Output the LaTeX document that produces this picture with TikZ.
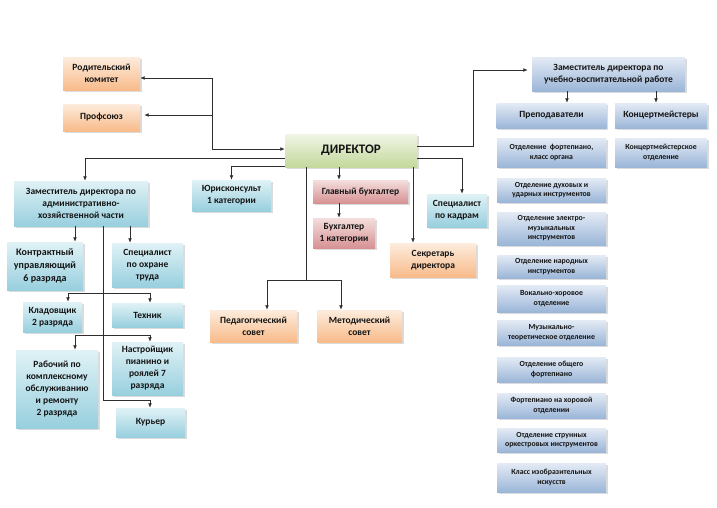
\documentclass[tikz,border=0pt]{standalone}
\usepackage{fontspec}
\setmainfont{Carlito}
\usetikzlibrary{arrows.meta,shadows,calc}
\definecolor{orT}{HTML}{FDECDD}
\definecolor{orB}{HTML}{F8BB8A}
\definecolor{aqT}{HTML}{E0F2F6}
\definecolor{aqB}{HTML}{98CFDE}
\definecolor{rdT}{HTML}{F4DEDD}
\definecolor{rdB}{HTML}{D79294}
\definecolor{grT}{HTML}{F0F5E5}
\definecolor{grB}{HTML}{C4D89C}
\definecolor{blT}{HTML}{E4EBF5}
\definecolor{blB}{HTML}{9BB6D8}
\definecolor{ln}{HTML}{2E2E2E}
\definecolor{tx}{HTML}{141414}
\begin{document}
\begin{tikzpicture}[x=1pt,y=-1pt,
  box/.style={rectangle, inner sep=1pt, align=center, text=tx,
    font=\bfseries\fontsize{9.5}{12}\selectfont,
    drop shadow={shadow xshift=1.6pt,shadow yshift=-1.6pt,opacity=0.28}},
  wh/.style 2 args={minimum width=#1pt, minimum height=#2pt},
  orb/.style={box, top color=orT, bottom color=orB},
  aqb/.style={box, top color=aqT, bottom color=aqB},
  rdb/.style={box, top color=rdT, bottom color=rdB},
  grb/.style={box, top color=grT, bottom color=grB},
  blb/.style={box, top color=blT, bottom color=blB},
  sml/.style={font=\bfseries\fontsize{7.8}{9.5}\selectfont},
  arr/.style={draw=ln, line width=0.8pt, -{Latex[length=4.5pt,width=3.8pt]}},
  ln/.style={draw=ln, line width=0.8pt},
]
\fill[white] (0,0) rectangle (717,507);
\useasboundingbox (0,0) rectangle (717,507);

% top left
\node[orb, wh={77}{33}] (rod) at (101.5,73.5) {Родительский\\комитет};
\node[orb, wh={77}{27}] (prof) at (101.5,117.5) {Профсоюз};
% director
\node[grb, wh={132}{33}, font=\bfseries\fontsize{13}{15}\selectfont] (dir) at (351,150.5) {ДИРЕКТОР};
% middle
\node[aqb, wh={79}{31}] (jur) at (231.5,195.5) {Юрисконсульт\\1 категории};
\node[rdb, wh={95}{23}] (glb) at (360.5,191.5) {Главный бухгалтер};
\node[rdb, wh={62}{30}] (buh) at (344,233) {Бухгалтер\\1 категории};
\node[aqb, wh={60}{33}] (kad) at (457,210.5) {Специалист\\по кадрам};
\node[orb, wh={86}{34}] (sek) at (433,260) {Секретарь\\директора};
\node[orb, wh={87}{32}] (ped) at (253.5,326) {Педагогический\\совет};
\node[orb, wh={85}{32}] (met) at (359.5,326) {Методический\\совет};
% left
\node[aqb, wh={134}{45}] (axch) at (81,203.5) {Заместитель директора по\\административно-\\хозяйственной части};
\node[aqb, wh={76}{48}, font=\bfseries\fontsize{10}{13}\selectfont] (kontr) at (45,266) {Контрактный\\управляющий\\6 разряда};
\node[aqb, wh={71}{44}] (ohr) at (147.5,265) {Специалист\\по охране\\труда};
\node[aqb, wh={59}{30}] (klad) at (52.5,317) {Кладовщик\\2 разряда};
\node[aqb, wh={71}{24}] (tech) at (147.5,315) {Техник};
\node[aqb, wh={82}{78}] (rab) at (57,389) {Рабочий по\\комплексному\\обслуживанию\\и ремонту\\2 разряда};
\node[aqb, wh={71}{53}] (nastr) at (147.5,368.5) {Настройщик\\пианино и\\роялей 7\\разряда};
\node[aqb, wh={69}{29}] (kur) at (150.5,422.5) {Курьер};
% right
\node[blb, wh={153}{34}] (uvr) at (608.5,74) {Заместитель директора по\\учебно-воспитательной работе};
\node[blb, wh={110}{25}] (prep) at (551.5,115.5) {Преподаватели};
\node[blb, wh={92}{25}] (konc) at (661,115.5) {Концертмейстеры};
\node[blb, sml, wh={109}{29}] (r1) at (551.5,152.5) {Отделение \ фортепиано,\\класс органа};
\node[blb, sml, wh={92}{29}] (k1) at (661,152.5) {Концертмейстерское\\отделение};
\node[blb, sml, wh={109}{24}] (r2) at (551.5,190) {Отделение духовых и\\ударных инструментов};
\node[blb, sml, wh={109}{33}] (r3) at (551.5,228.5) {Отделение электро-\\музыкальных\\инструментов};
\node[blb, sml, wh={109}{23}] (r4) at (551.5,266.5) {Отделение народных\\инструментов};
\node[blb, sml, wh={109}{27}] (r5) at (551.5,298.5) {Вокально-хоровое\\отделение};
\node[blb, sml, wh={109}{25}] (r6) at (551.5,332.5) {Музыкально-\\теоретическое отделение};
\node[blb, sml, wh={109}{25}] (r7) at (551.5,369.5) {Отделение общего\\фортепиано};
\node[blb, sml, wh={109}{25}] (r8) at (551.5,405.5) {Фортепиано на хоровой\\отделении};
\node[blb, sml, wh={109}{24}] (r9) at (551.5,440) {Отделение струнных\\оркестровых инструментов};
\node[blb, sml, wh={109}{29}] (r10) at (551.5,477.5) {Класс изобразительных\\искусств};

% junctions
\coordinate (jL) at (212,115);
\coordinate (jC) at (306,280);
\coordinate (jT) at (103,293);
\coordinate (jN) at (103,335);

% director connectors
\draw[arr, {Latex[length=4.5pt,width=3.8pt]}-{Latex[length=4.5pt,width=3.8pt]}]
  (dir.west |- 0,149) -| (212,78) -- (rod.east |- 0,78);
\draw[arr, shorten >=4pt] (jL) -- (prof.east |- jL);
\draw[arr] (dir.west |- 0,158) -| ($(axch.north)+(4,0)$);
\draw[arr] (dir.west |- 0,166) -| (jur.north);
\draw[arr] (dir.south -| 339,0) -- (glb.north -| 339,0);
\draw[arr] (glb.south -| 339,0) -- (buh.north -| 339,0);
\draw[arr] (dir.south -| 413,0) -- (sek.north -| 413,0);
\draw[arr] (dir.east |- 0,158) -| (kad.north -| 462,0);
\draw[arr, shorten >=4pt] (dir.east |- 0,146) -| (473,70) -- (uvr.west |- 0,70);
\draw[ln] (dir.south -| jC) -- (jC);
\draw[arr] (jC) -| (ped.north -| 267,0);
\draw[arr] (jC) -| (met.north -| 341,0);
% right
\draw[arr] (uvr.south -| 567,0) -- (prep.north -| 567,0);
\draw[arr] (uvr.south -| 656,0) -- (konc.north -| 656,0);
% left tree
\draw[arr] (axch.south -| 75,0) -- (kontr.north -| 75,0);
\draw[arr] (axch.south -| 130,0) -- (ohr.north -| 130,0);
\draw[arr] (axch.south -| jT) -- (103,400) -| (kur.north -| 150,0);
\draw[arr] (jT) -| (klad.north -| 68,0);
\draw[arr] (jT) -| (tech.north -| 150,0);
\draw[arr] (jN) -| (rab.north -| 75,0);
\draw[arr] (jN) -| (nastr.north -| 150,0);
\end{tikzpicture}
\end{document}
